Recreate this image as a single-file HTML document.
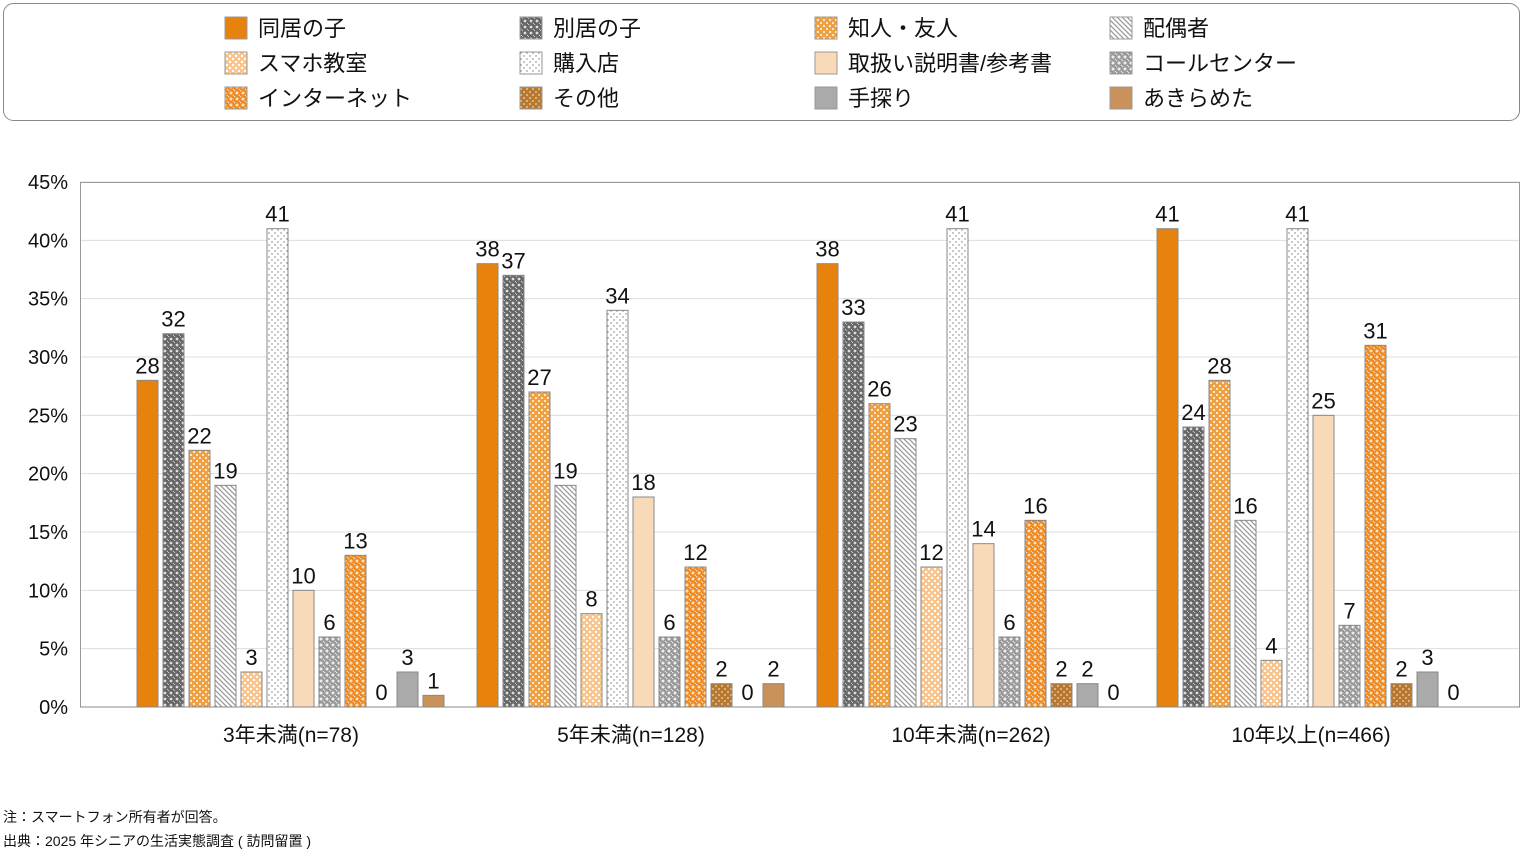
<!DOCTYPE html>
<html><head><meta charset="utf-8"><style>
body{margin:0;background:#fff;width:1524px;height:851px;overflow:hidden;font-family:"Liberation Sans","Noto Sans CJK JP",sans-serif;}
svg text{font-family:"Liberation Sans","Noto Sans CJK JP",sans-serif;}
</style></head><body>
<svg id="s" width="1524" height="851" xmlns="http://www.w3.org/2000/svg">
<defs>
<pattern id="p1" width="6" height="6" patternUnits="userSpaceOnUse"><rect width="6" height="6" fill="#666"/><circle cx="3" cy="3" r="1.4" fill="#ddd"/><circle cx="0" cy="0" r="1.2" fill="#ccc"/><circle cx="6" cy="6" r="1.2" fill="#ccc"/></pattern>
<pattern id="p2" width="6" height="6" patternUnits="userSpaceOnUse"><rect width="6" height="6" fill="#F0A040"/><circle cx="2" cy="2" r="1" fill="#fff"/><circle cx="5" cy="5" r="1" fill="#fff"/></pattern>
<pattern id="p3" width="5" height="5" patternUnits="userSpaceOnUse"><rect width="5" height="5" fill="#fff"/><path d="M0 0L5 5M-1 4L1 6M4 -1L6 1" stroke="#999" stroke-width="1.3"/></pattern>
<pattern id="p4" width="6" height="6" patternUnits="userSpaceOnUse"><rect width="6" height="6" fill="#F9C48C"/><circle cx="2" cy="2" r="1.2" fill="#fff"/><circle cx="5" cy="5" r="1.2" fill="#fff"/></pattern>
<pattern id="p5" width="6" height="6" patternUnits="userSpaceOnUse"><rect width="6" height="6" fill="#fff"/><circle cx="2" cy="2" r="0.7" fill="#777"/><circle cx="5" cy="5" r="0.7" fill="#777"/></pattern>
<pattern id="p7" width="6" height="6" patternUnits="userSpaceOnUse"><rect width="6" height="6" fill="#999"/><circle cx="3" cy="3" r="1.5" fill="#eee"/><circle cx="0" cy="0" r="1.3" fill="#eee"/><circle cx="6" cy="6" r="1.3" fill="#eee"/></pattern>
<pattern id="p8" width="6" height="6" patternUnits="userSpaceOnUse"><rect width="6" height="6" fill="#F08A20"/><circle cx="3" cy="3" r="1.5" fill="#fde0c0"/><circle cx="0" cy="0" r="1.3" fill="#fde0c0"/><circle cx="6" cy="6" r="1.3" fill="#fde0c0"/></pattern>
<pattern id="p9" width="6" height="6" patternUnits="userSpaceOnUse"><rect width="6" height="6" fill="#B87830"/><circle cx="2" cy="2" r="0.9" fill="#f0d8b8"/><circle cx="5" cy="5" r="0.9" fill="#f0d8b8"/></pattern>
</defs>
</svg>
<script>
const s=document.getElementById('s');const NS='http://www.w3.org/2000/svg';
function el(t,a,txt){const e=document.createElementNS(NS,t);for(const k in a)e.setAttribute(k,a[k]);if(txt!==undefined)e.textContent=txt;s.appendChild(e);return e;}
const fills=['#E8820E','url(#p1)','url(#p2)','url(#p3)','url(#p4)','url(#p5)','#F9DAB8','url(#p7)','url(#p8)','url(#p9)','#AAAAAA','#C8925A'];
const names=['同居の子','別居の子','知人・友人','配偶者','スマホ教室','購入店','取扱い説明書/参考書','コールセンター','インターネット','その他','手探り','あきらめた'];
el('rect',{x:3.5,y:3.5,width:1516,height:117,rx:10,fill:'#fff',stroke:'#888','stroke-width':1});
names.forEach((n,i)=>{const c=i%4,r=Math.floor(i/4);const x=225+c*295,y=17+r*35;
el('rect',{x:x,y:y,width:22,height:22,fill:fills[i],stroke:'#999'});
el('text',{x:x+33,y:y+19,'font-size':22,fill:'#111'},n);});
const y0=707,k=525/45;
for(let v=0;v<=45;v+=5){const y=y0-v*k;
if(v>0)el('line',{x1:80,x2:1520,y1:y,y2:y,stroke:'#ddd'});
el('text',{x:68,y:y+7,'font-size':20,'text-anchor':'end',fill:'#111'},v+'%');}
el('rect',{x:80.5,y:182.5,width:1439,height:524.5,fill:'none',stroke:'#999'});
const data=[[28,32,22,19,3,41,10,6,13,0,3,1],[38,37,27,19,8,34,18,6,12,2,0,2],[38,33,26,23,12,41,14,6,16,2,2,0],[41,24,28,16,4,41,25,7,31,2,3,0]];
const cats=['3年未満(n=78)','5年未満(n=128)','10年未満(n=262)','10年以上(n=466)'];
data.forEach((g,gi)=>{const gx=137+gi*340;
g.forEach((v,i)=>{const x=gx+i*26,h=v*k;
if(v>0)el('rect',{x:x,y:y0-h,width:21,height:h,fill:fills[i],stroke:'#888','stroke-width':1});
el('text',{x:x+10.5,y:y0-h-7,'font-size':22,'text-anchor':'middle',fill:'#111'},v);});
el('text',{x:gx+154,y:742,'font-size':21,'text-anchor':'middle',fill:'#111'},cats[gi]);});
el('line',{x1:80,x2:1520,y1:707,y2:707,stroke:'#888'});
el('text',{x:3,y:822,'font-size':14,fill:'#111'},'注：スマートフォン所有者が回答。');
el('text',{x:3,y:846,'font-size':14,fill:'#111'},'出典：2025 年シニアの生活実態調査 ( 訪問留置 )');
</script>
</body></html>
